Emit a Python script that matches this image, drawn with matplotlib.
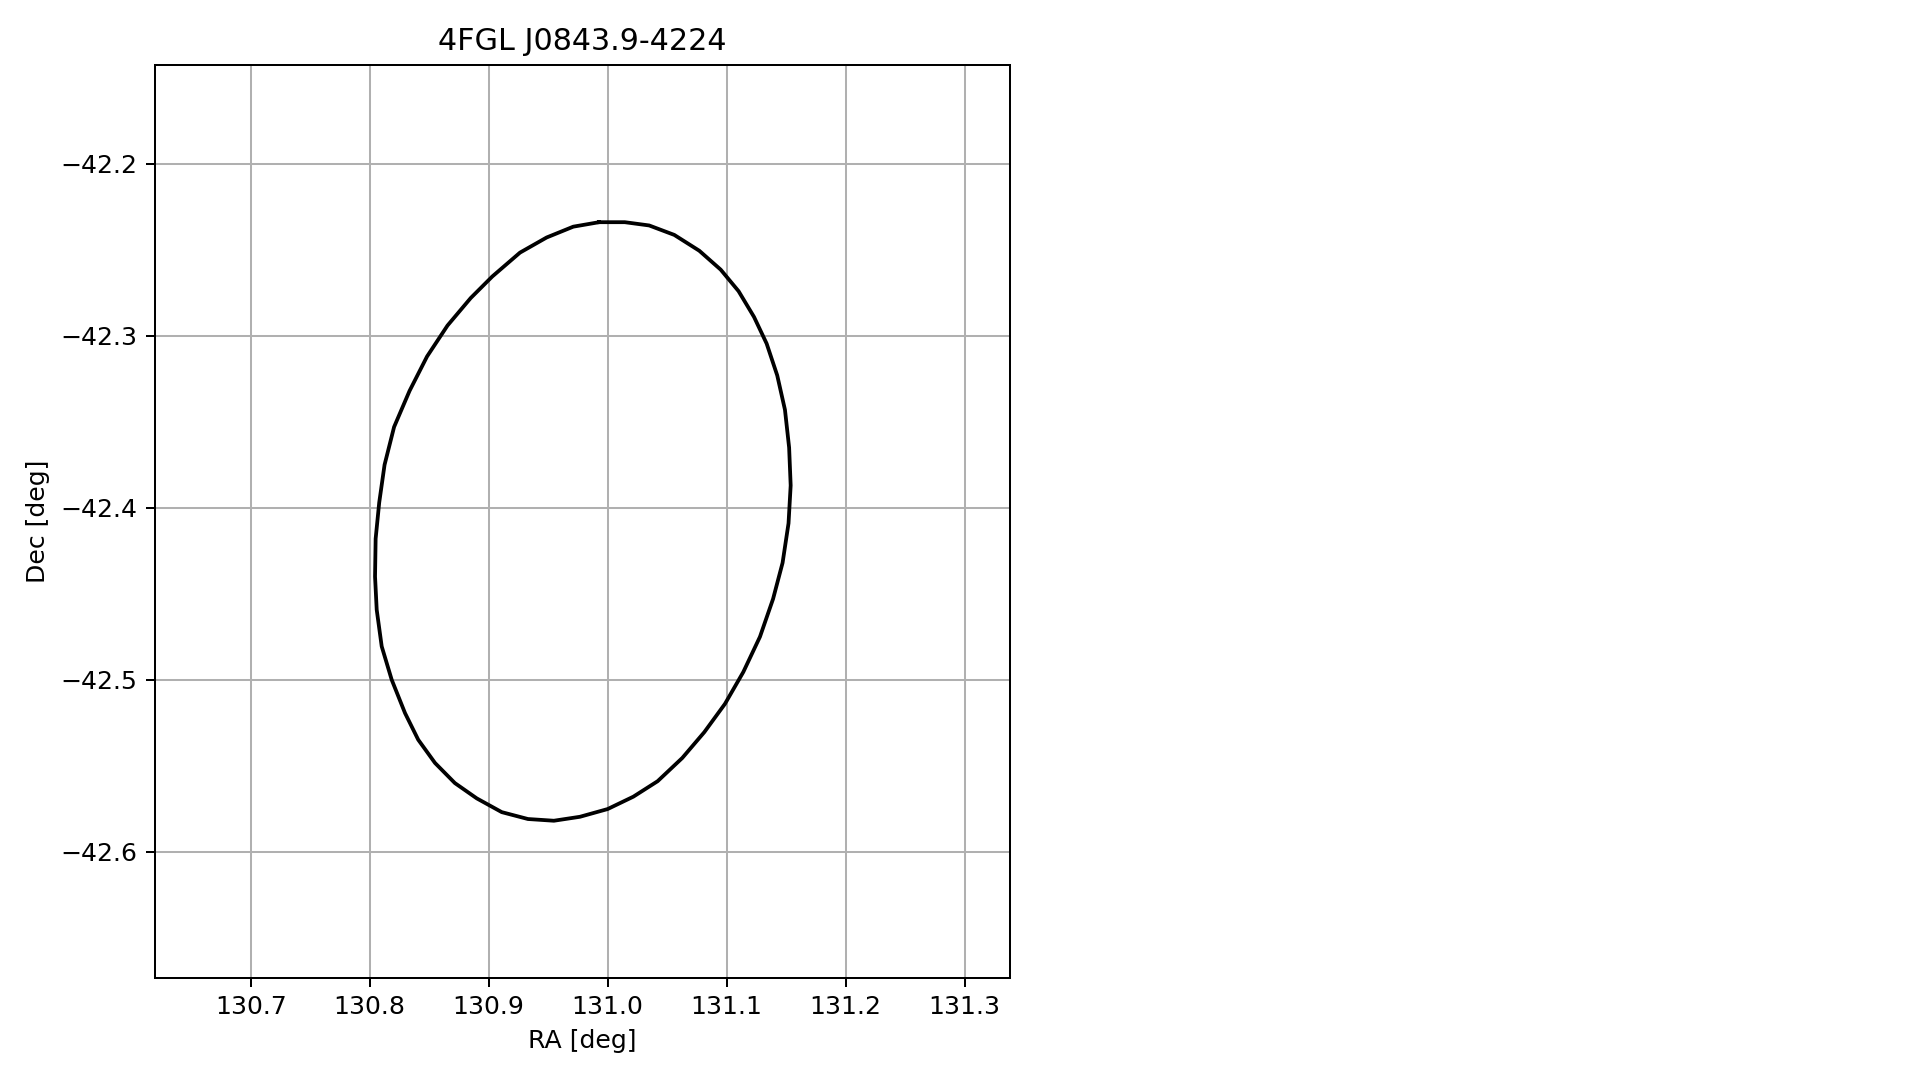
import matplotlib
matplotlib.use('Agg')
import matplotlib.pyplot as plt

# error ellipse outline (deg)
ra = [130.9928, 131.0144, 131.0349, 131.0560, 131.0770, 131.0950, 131.1100, 131.1230,
      131.1336, 131.1425, 131.1490, 131.1525, 131.1538, 131.1520, 131.1470, 131.1390,
      131.1280, 131.1140, 131.0986, 131.0812, 131.0627, 131.0420, 131.0216, 131.0000,
      130.9767, 130.9548, 130.9330, 130.9110, 130.8900, 130.8716, 130.8549, 130.8408,
      130.8297, 130.8185, 130.8101, 130.8059, 130.8045, 130.8050, 130.8080, 130.8125,
      130.8205, 130.8335, 130.8482, 130.8654, 130.8849, 130.9030, 130.9263, 130.9487,
      130.9711, 130.9928]
dec = [-42.2339, -42.2339, -42.2358, -42.2413, -42.2505, -42.2615, -42.2740, -42.2890,
       -42.3045, -42.3230, -42.3430, -42.3650, -42.3870, -42.4090, -42.4320, -42.4530,
       -42.4750, -42.4955, -42.5140, -42.5305, -42.5455, -42.5590, -42.5680, -42.5752,
       -42.5797, -42.5820, -42.5810, -42.5770, -42.5690, -42.5601, -42.5484, -42.5349,
       -42.5194, -42.5000, -42.4806, -42.4593, -42.4400, -42.4180, -42.3970, -42.3750,
       -42.3530, -42.3320, -42.3120, -42.2940, -42.2780, -42.2655, -42.2516, -42.2428,
       -42.2365, -42.2339]

source_name = '4FGL J0843.9-4224'
ra_lim = (130.6193, 131.3381)
dec_lim = (-42.6733, -42.1423)

DPI = 181
fig = plt.figure(figsize=(1919 / DPI, 1080 / DPI), dpi=DPI)
ax = fig.add_axes([0.0806, 0.0947, 0.4457, 0.8454])

ax.plot(ra, dec, color='black', lw=1.5)
ax.set_xlim(*ra_lim)
ax.set_ylim(*dec_lim)
ax.grid(True)
ax.set_xlabel('RA [deg]')
ax.set_ylabel('Dec [deg]')
ax.set_title(source_name)

fig.savefig('out.png', dpi=DPI)
